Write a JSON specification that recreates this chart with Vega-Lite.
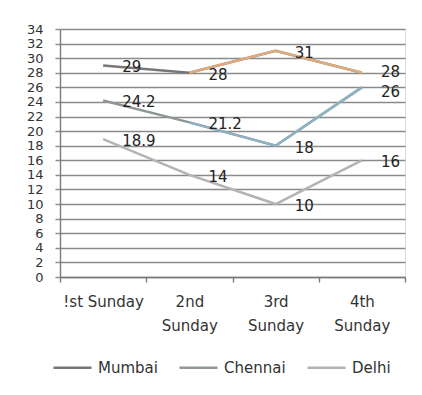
{
  "$schema": "https://vega.github.io/schema/vega-lite/v6.json",
  "width": 345,
  "height": 248,
  "autosize": {"type": "none"},
  "padding": {"left": 60, "top": 29, "right": 17, "bottom": 118},
  "background": "white",
  "data": {
    "values": [
      {"city": "Mumbai", "week": "!st Sunday", "value": 29},
      {"city": "Mumbai", "week": "2nd Sunday", "value": 28},
      {"city": "Mumbai", "week": "3rd Sunday", "value": 31},
      {"city": "Mumbai", "week": "4th Sunday", "value": 28},
      {"city": "Chennai", "week": "!st Sunday", "value": 24.2},
      {"city": "Chennai", "week": "2nd Sunday", "value": 21.2},
      {"city": "Chennai", "week": "3rd Sunday", "value": 18},
      {"city": "Chennai", "week": "4th Sunday", "value": 26},
      {"city": "Delhi", "week": "!st Sunday", "value": 18.9},
      {"city": "Delhi", "week": "2nd Sunday", "value": 14},
      {"city": "Delhi", "week": "3rd Sunday", "value": 10},
      {"city": "Delhi", "week": "4th Sunday", "value": 16}
    ]
  },
  "encoding": {
    "x": {
      "field": "week",
      "type": "ordinal",
      "bandPosition": 0.5,
      "sort": ["!st Sunday", "2nd Sunday", "3rd Sunday", "4th Sunday"],
      "scale": {"type": "band", "paddingInner": 0, "paddingOuter": 0},
      "axis": {
        "title": null,
        "labelAngle": 0,
        "labelExpr": "datum.label == '!st Sunday' ? datum.label : split(datum.label, ' ')",
        "labelLineHeight": 24,
        "labelPadding": 12,
        "labelFontSize": 15,
        "labelFont": "DejaVu Sans",
        "labelColor": "#333333",
        "tickBand": "extent",
        "tickSize": 5,
        "tickColor": "#7a7a7a",
        "domainColor": "#7a7a7a",
        "domainWidth": 1.4,
        "tickWidth": 1.4,
        "grid": false
      }
    },
    "y": {
      "field": "value",
      "type": "quantitative",
      "scale": {"domain": [0, 34], "nice": false},
      "axis": {
        "title": null,
        "values": [0, 2, 4, 6, 8, 10, 12, 14, 16, 18, 20, 22, 24, 26, 28, 30, 32, 34],
        "labelOverlap": false,
        "labelBound": false,
        "labelFontSize": 13,
        "labelFont": "DejaVu Sans",
        "labelColor": "#333333",
        "labelPadding": 12,
        "tickSize": 5,
        "tickColor": "#8a8a8a",
        "tickWidth": 1.4,
        "domainColor": "#7a7a7a",
        "domainWidth": 1.4,
        "grid": true,
        "gridColor": "#8a8a8a",
        "gridWidth": 1.4
      }
    }
  },
  "layer": [
    {
      "mark": {"type": "line", "strokeWidth": 2.5},
      "encoding": {
        "color": {
          "field": "city",
          "type": "nominal",
          "sort": ["Mumbai", "Chennai", "Delhi"],
          "scale": {"domain": ["Mumbai", "Chennai", "Delhi"], "range": ["#777777", "#8f9696", "#b3b3b3"]},
          "legend": {
            "title": null,
            "orient": "none",
            "direction": "horizontal",
            "legendX": -8,
            "legendY": 318,
            "symbolType": "stroke",
            "symbolSize": 1444,
            "symbolStrokeWidth": 2.5,
            "labelFontSize": 15,
            "labelFont": "DejaVu Sans",
            "labelColor": "#333333",
            "labelOffset": 5,
            "columnPadding": 16
          }
        }
      }
    },
    {
      "transform": [{"filter": "datum.city == 'Mumbai' && datum.week != '!st Sunday'"}],
      "mark": {"type": "line", "strokeWidth": 2.5, "color": "#deac7e"}
    },
    {
      "transform": [{"filter": "datum.city == 'Chennai' && datum.week != '!st Sunday'"}],
      "mark": {"type": "line", "strokeWidth": 2.5, "color": "#8db2c4"}
    },
    {
      "transform": [{"filter": "!(datum.week == '4th Sunday' && datum.city != 'Delhi')"}],
      "mark": {"type": "text", "align": "left", "baseline": "middle", "dx": 19, "dy": 2, "fontSize": 15, "font": "DejaVu Sans", "color": "#222222"},
      "encoding": {"text": {"field": "value", "type": "quantitative"}}
    },
    {
      "transform": [{"filter": "datum.week == '4th Sunday' && datum.city == 'Mumbai'"}],
      "mark": {"type": "text", "align": "left", "baseline": "middle", "dx": 19, "dy": -1, "fontSize": 15, "font": "DejaVu Sans", "color": "#222222"},
      "encoding": {"text": {"field": "value", "type": "quantitative"}}
    },
    {
      "transform": [{"filter": "datum.week == '4th Sunday' && datum.city == 'Chennai'"}],
      "mark": {"type": "text", "align": "left", "baseline": "middle", "dx": 19, "dy": 5, "fontSize": 15, "font": "DejaVu Sans", "color": "#222222"},
      "encoding": {"text": {"field": "value", "type": "quantitative"}}
    }
  ]
}
